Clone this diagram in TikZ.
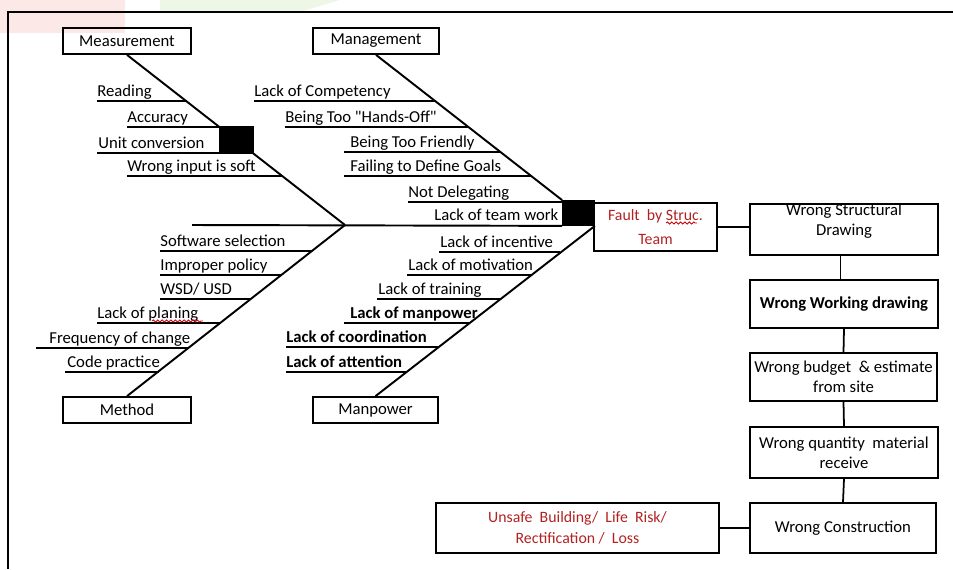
\documentclass[tikz,border=0pt]{standalone}
\usepackage{fontspec}
\setmainfont{Carlito}
\newfontfamily\qfont{Carlito}[Ligatures=TeXOff]
\usetikzlibrary{decorations.pathmorphing}
\definecolor{faultred}{RGB}{178,34,34}
\definecolor{wmpink}{RGB}{253,232,232}
\definecolor{wmgreen}{RGB}{238,247,230}
\newcommand\myfs{\fontsize{9.5}{11.5}\selectfont}
\newcommand\fishlbl[6]{%
  \node[lbl] (#1) at (#2,#3) {#6};
  \coordinate (#1s) at (#4,#3);
  \coordinate (#1e) at (#5,#3);
  \draw[ul] (#1s) -- (#1e);}
\newcommand\pbox[7]{%
  \node[box,minimum width={(#4-#2)*0.02cm},minimum height={(#5-#3)*0.02cm},#6]
    (#1) at ({(#2+#4)/2},{(#3+#5)/2}) {#7};}
\begin{document}
\begin{tikzpicture}[x=0.02cm,y=-0.02cm,
  font=\myfs,
  box/.style={draw,line width=1pt,inner sep=0,align=center},
  lbl/.style={anchor=south west,inner xsep=0,inner ysep=0.3pt,text height=7pt,text depth=2pt},
  ul/.style={line width=0.8pt},
  bone/.style={line width=1.1pt},
  conn/.style={line width=1pt},
  blk/.style={fill=black,draw=black},
  frame/.style={line width=1.3pt},
  squig/.style={red!80!black,line width=0.5pt,decorate,decoration={snake,amplitude=0.6pt,segment length=2.5pt}}
]
\useasboundingbox (0,0) rectangle (953,569);
% faint watermark remnants
\fill[wmpink] (0,0) rectangle (125,33);
\fill[wmgreen] (160,0) -- (340,0) -- (300,12) -- (160,12) -- cycle;
% frame
\coordinate (fTL) at (8,12);
\draw[frame] (953,12) -- (fTL) -- (8,569);

% category boxes
\pbox{meas}{63}{28}{191}{54}{}{Measurement}
\pbox{mgmt}{313}{28}{439}{54}{}{Management}
\pbox{meth}{63}{397}{191}{423}{}{Method}
\pbox{manp}{313}{397}{438}{423}{}{Manpower}

% head
\pbox{fault}{594}{203}{717}{251}{text=faultred,font=\fontsize{9}{14}\selectfont}{Fault\ \ by Struc.\\Team}

% spine and bones
\coordinate (tail) at (192,225);
\coordinate (j1) at (345,225);
\pbox{bb}{563}{201}{594}{225}{blk}{}
\draw[bone] (tail) -- (bb.south west);
\draw[bone] (meas.south) -- (j1);
\draw[bone] (meth.north) -- (j1);
\draw[bone] (mgmt.south) -- (bb.north west);
\draw[bone] (manp.north) -- (bb.south east);
\pbox{sb}{220}{127}{253}{153}{blk}{}
\pbox{bb}{563}{201}{594}{225}{blk}{}

% Measurement causes
\fishlbl{m1}{97}{101}{97}{187}{Reading}
\fishlbl{m2}{127}{127}{127}{220}{Accuracy}
\fishlbl{m3}{98}{153}{97}{220}{Unit conversion}
\fishlbl{m4}{127}{176}{127}{282.5}{Wrong input is soft}

% Management causes
\fishlbl{g1}{254}{101}{254}{436}{Lack of Competency}
\fishlbl{g2}{285}{127}{285}{469}{{\qfont Being Too "Hands-Off"}}
\fishlbl{g3}{350}{152}{344}{501}{Being Too Friendly}
\fishlbl{g4}{350}{176}{344}{531}{Failing to Define Goals}
\fishlbl{g5}{408}{202}{408}{563}{Not Delegating}
\node[lbl] (g6) at (434,225) {Lack of team work};

% Method causes
\fishlbl{t1}{160}{251}{160}{312}{Software selection}
\fishlbl{t2}{160}{275}{160}{281.6}{Improper policy}
\fishlbl{t3}{160}{299}{160}{251.2}{WSD/ USD}
\fishlbl{t4}{97}{323}{97}{220.8}{Lack of planing}
\fishlbl{t5}{49}{348}{36}{189.1}{Frequency of change}
\fishlbl{t6}{67}{372}{65}{158.7}{Code practice}

% Manpower causes
\fishlbl{p1}{440}{252}{439}{559.7}{Lack of incentive}
\fishlbl{p2}{408}{275}{407}{530.5}{Lack of motivation}
\fishlbl{p3}{378}{299}{377}{500}{Lack of training}
\fishlbl{p4}{350}{323}{344}{469.5}{\textbf{Lack of manpower}}
\fishlbl{p5}{286}{347}{286}{439}{\textbf{Lack of coordination}}
\fishlbl{p6}{286}{372}{286}{407.3}{\textbf{Lack of attention}}

% spell-check squiggles
\draw[squig] (152,321) -- (203,321);
\draw[squig] (666,223) -- (697,223);

% consequence chain
\pbox{wsd}{750}{204}{938}{255}{}{}
\node[align=center,inner sep=0] (wsdt) at (844,221) {Wrong Structural\\Drawing};
\pbox{wwd}{750}{280}{938}{328}{font=\myfs\bfseries}{Wrong Working drawing}
\pbox{bud}{750}{353}{937}{401}{}{Wrong budget\ \ \& estimate\\from site}
\pbox{qty}{750}{427}{938}{478}{}{Wrong quantity\ \ material\\receive}
\pbox{con}{750}{503}{936}{553}{}{Wrong Construction}
\pbox{uns}{436}{503}{719}{553}{text=faultred,font=\fontsize{9}{12}\selectfont}{Unsafe\ \ Building/\ \ Life\ \ Risk/\\Rectification /\ \ Loss}

\draw[conn] (fault.east) -- (fault.east -| wsd.west);
\draw[conn] ([xshift=-2]wsd.south) -- ([xshift=-2]wwd.north);
\draw[conn] (wwd.south) -- (bud.north);
\draw[conn] (bud.south) -- (qty.north);
\draw[conn] (qty.south) -- (con.north);
\draw[conn] (uns.east) -- (con.west);
\end{tikzpicture}
\end{document}
